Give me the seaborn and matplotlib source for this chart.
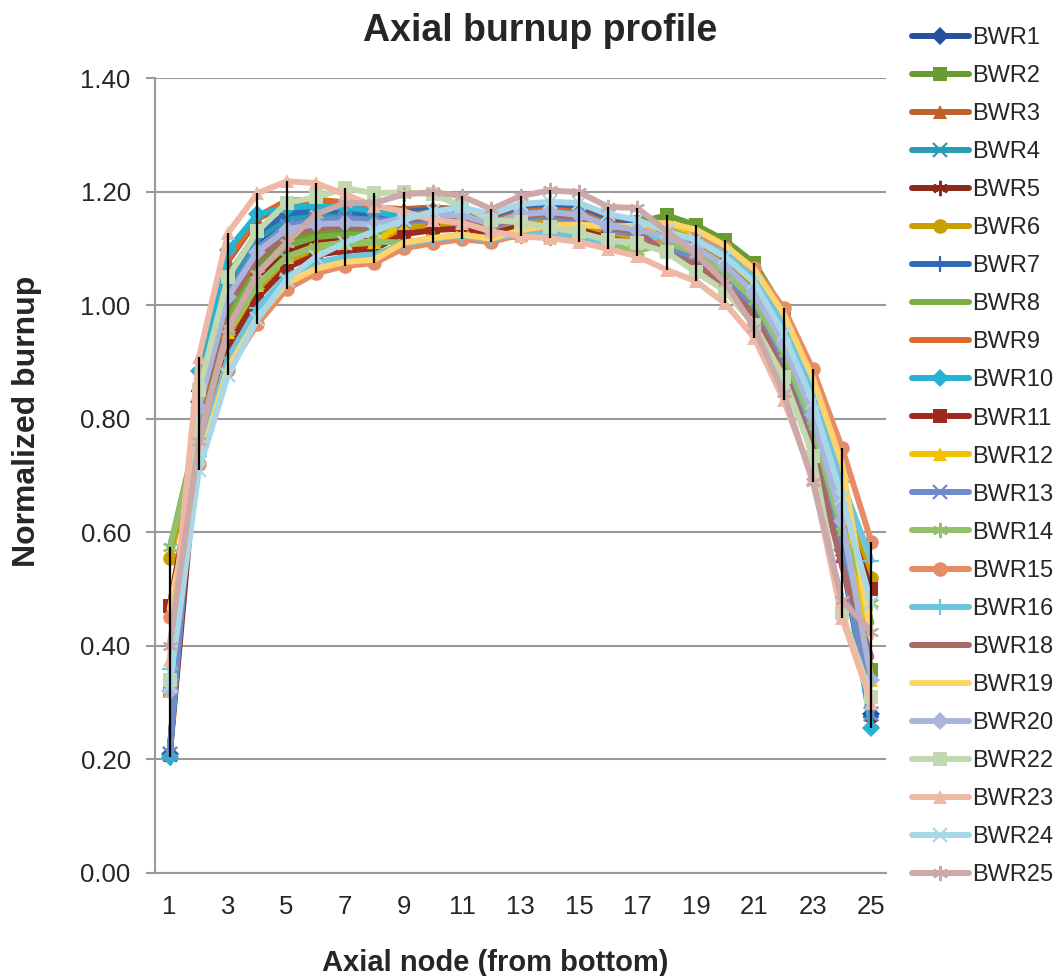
import numpy as np
import pandas as pd
import matplotlib
matplotlib.use("Agg")
import matplotlib.pyplot as plt
import seaborn as sns

nodes = list(range(1, 26))
series_names = ["BWR1", "BWR2", "BWR3", "BWR4", "BWR5", "BWR6", "BWR7", "BWR8",
                "BWR9", "BWR10", "BWR11", "BWR12", "BWR13", "BWR14", "BWR15",
                "BWR16", "BWR18", "BWR19", "BWR20", "BWR22", "BWR23", "BWR24", "BWR25"]

BWR1 = [0.21, .829, 1.027, 1.105, 1.142, 1.151, 1.151, 1.148, 1.159, 1.163, 1.162, 1.146, 1.164, 1.168, 1.164, 1.143, 1.137, 1.105, 1.087, 1.053, 1.001, .907, .778, .584, .28]
BWR2 = [0.32, .799, .990, 1.071, 1.114, 1.128, 1.131, 1.129, 1.140, 1.145, 1.146, 1.134, 1.149, 1.152, 1.146, 1.136, 1.146, 1.158, 1.141, 1.114, 1.074, .990, .827, .599, .357]
BWR3 = [0.21, .868, 1.077, 1.151, 1.180, 1.183, 1.179, 1.172, 1.169, 1.172, 1.169, 1.152, 1.171, 1.177, 1.173, 1.151, 1.146, 1.115, 1.096, 1.064, 1.015, .924, .797, .613, .265]
BWR4 = [0.21, .839, 1.040, 1.117, 1.152, 1.159, 1.158, 1.154, 1.150, 1.154, 1.154, 1.140, 1.157, 1.160, 1.155, 1.136, 1.129, 1.110, 1.092, 1.059, 1.008, .916, .788, .599, .28]
BWR5 = [0.205, .779, .965, 1.048, 1.095, 1.112, 1.117, 1.117, 1.130, 1.136, 1.139, 1.128, 1.142, 1.143, 1.137, 1.121, 1.112, 1.096, 1.077, 1.042, .988, .891, .758, .554, .265]
BWR6 = [0.555, .760, .940, 1.025, 1.076, 1.096, 1.103, 1.105, 1.135, 1.141, 1.143, 1.131, 1.146, 1.147, 1.142, 1.125, 1.116, 1.129, 1.111, 1.081, 1.034, .949, .827, .658, .52]
BWR7 = [0.21, .849, 1.052, 1.128, 1.161, 1.167, 1.165, 1.160, 1.164, 1.168, 1.165, 1.149, 1.167, 1.173, 1.168, 1.147, 1.141, 1.110, 1.092, 1.058, 1.008, .915, .787, .598, .275]
BWR8 = [0.57, .789, .977, 1.059, 1.104, 1.120, 1.124, 1.123, 1.145, 1.150, 1.150, 1.137, 1.153, 1.156, 1.151, 1.132, 1.124, 1.134, 1.116, 1.086, 1.041, .957, .837, .673, .44]
BWR9 = [0.21, .872, 1.082, 1.156, 1.184, 1.186, 1.181, 1.175, 1.159, 1.163, 1.162, 1.146, 1.164, 1.168, 1.164, 1.143, 1.137, 1.120, 1.101, 1.070, 1.021, .932, .807, .628, .30]
BWR10 = [0.205, .884, 1.097, 1.160, 1.171, 1.175, 1.172, 1.166, 1.154, 1.159, 1.158, 1.143, 1.160, 1.164, 1.159, 1.140, 1.133, 1.100, 1.082, 1.047, .995, .899, .768, .569, .255]
BWR11 = [0.47, .750, .927, 1.013, 1.066, 1.088, 1.096, 1.099, 1.125, 1.132, 1.135, 1.126, 1.139, 1.139, 1.133, 1.118, 1.107, 1.120, 1.101, 1.070, 1.021, .932, .807, .640, .50]
BWR12 = [0.32, .769, .952, 1.036, 1.085, 1.104, 1.110, 1.111, 1.145, 1.150, 1.150, 1.137, 1.153, 1.156, 1.151, 1.132, 1.124, 1.144, 1.126, 1.097, 1.054, .973, .857, .703, .34]
BWR13 = [0.21, .825, 1.020, 1.100, 1.140, 1.150, 1.152, 1.150, 1.146, 1.150, 1.150, 1.137, 1.153, 1.156, 1.150, 1.132, 1.124, 1.100, 1.082, 1.047, .995, .899, .768, .560, .28]
BWR14 = [0.574, .770, .955, 1.035, 1.085, 1.103, 1.110, 1.112, 1.110, 1.118, 1.124, 1.117, 1.121, 1.119, 1.118, 1.106, 1.095, 1.110, 1.092, 1.058, 1.008, .916, .788, .600, .475]
BWR15 = [0.45, .720, .885, .967, 1.028, 1.056, 1.069, 1.074, 1.100, 1.109, 1.116, 1.111, 1.125, 1.128, 1.125, 1.115, 1.110, 1.120, 1.120, 1.100, 1.065, .995, .887, .748, .583]
BWR16 = [0.36, .734, .907, .995, 1.051, 1.075, 1.085, 1.089, 1.108, 1.116, 1.122, 1.116, 1.127, 1.125, 1.118, 1.110, 1.112, 1.125, 1.115, 1.090, 1.048, .965, .847, .688, .55]
BWR18 = [0.33, .809, 1.002, 1.082, 1.123, 1.136, 1.138, 1.136, 1.150, 1.154, 1.154, 1.140, 1.157, 1.160, 1.155, 1.136, 1.129, 1.091, 1.072, 1.036, .982, .883, .748, .539, .38]
BWR19 = [0.465, .720, .890, .978, 1.038, 1.064, 1.076, 1.080, 1.110, 1.118, 1.124, 1.117, 1.132, 1.140, 1.142, 1.138, 1.140, 1.145, 1.133, 1.105, 1.063, .985, .871, .720, .415]
BWR20 = [0.32, .819, 1.015, 1.094, 1.133, 1.143, 1.144, 1.142, 1.154, 1.159, 1.158, 1.143, 1.160, 1.164, 1.159, 1.140, 1.133, 1.120, 1.101, 1.070, 1.021, .932, .807, .620, .34]
BWR22 = [0.34, .850, 1.050, 1.130, 1.180, 1.190, 1.206, 1.197, 1.199, 1.195, 1.175, 1.150, 1.146, 1.137, 1.128, 1.114, 1.109, 1.093, 1.058, 1.025, .965, .873, .735, .457, .31]
BWR23 = [0.375, .908, 1.127, 1.197, 1.218, 1.215, 1.195, 1.175, 1.165, 1.150, 1.145, 1.130, 1.121, 1.118, 1.111, 1.099, 1.086, 1.062, 1.042, 1.003, .942, .833, .695, .449, .30]
BWR24 = [0.33, .710, .877, .975, 1.045, 1.085, 1.110, 1.130, 1.150, 1.165, 1.172, 1.160, 1.178, 1.182, 1.180, 1.160, 1.150, 1.130, 1.115, 1.085, 1.040, .950, .830, .660, .475]
BWR25 = [0.40, .760, .960, 1.055, 1.110, 1.160, 1.180, 1.180, 1.195, 1.199, 1.192, 1.169, 1.192, 1.202, 1.199, 1.173, 1.171, 1.130, 1.090, 1.040, .960, .845, .688, .480, .425]

values = [BWR1, BWR2, BWR3, BWR4, BWR5, BWR6, BWR7, BWR8, BWR9, BWR10, BWR11, BWR12,
          BWR13, BWR14, BWR15, BWR16, BWR18, BWR19, BWR20, BWR22, BWR23, BWR24, BWR25]

colors = ["#264F9C", "#6A9C32", "#C0612B", "#2A9BB4", "#8B2A1C", "#C9A000", "#2E69B8",
          "#7AAE3E", "#D86B2A", "#25B3D2", "#9E2A1E", "#F2C200", "#6E8CCB", "#93C06A",
          "#E68C66", "#6CC5DE", "#AA6864", "#FDD36A", "#A9B5DA", "#C2D9B0", "#EEB8A4",
          "#A8D8E8", "#CCA8A8"]
AST = (6, 2, 0)
markers = ["D", "s", "^", "x", AST, "o", "+", None, None, "D", "s", "^", "x", AST,
           "o", "+", None, None, "D", "s", "^", "x", AST]

df = pd.DataFrame({"node": np.tile(nodes, len(series_names)),
                   "burnup": np.concatenate(values),
                   "series": np.repeat(series_names, len(nodes))})

sns.set_style("white")
plt.rcParams["font.family"] = ["Liberation Sans", "DejaVu Sans"]

fig = plt.figure(figsize=(10.58, 9.76), dpi=100)
ax = fig.add_axes([155 / 1058, 1 - 873 / 976, 731 / 1058, 795 / 976])

for name, col, mk in zip(series_names, colors, markers):
    sub = df[df["series"] == name]
    unfilled = mk in ("x", "+", AST)
    ms = {"D": 9, "s": 9.5, "^": 10, "o": 10.5, "x": 9.5, "+": 11}.get(mk, 11) if mk is not None else 0
    sns.lineplot(data=sub, x="node", y="burnup", color=col, marker=mk, lw=4.3,
                 markersize=ms, markeredgecolor=col,
                 markeredgewidth=1.6 if unfilled else 0.0,
                 solid_capstyle="round", solid_joinstyle="round",
                 label=name, ax=ax, legend=False)

# min-max range bars at every node
piv = df.pivot(index="node", columns="series", values="burnup")
ax.vlines(piv.index, piv.min(axis=1), piv.max(axis=1), color="black", lw=1.6, zorder=10)

ax.set_xlim(0.5, 25.5)
ax.set_ylim(0, 1.4)
ax.set_xticks(nodes[::2])
ax.set_xticklabels([str(n) for n in nodes[::2]])
ax.set_yticks(np.arange(0, 1.41, 0.2))
ax.set_yticklabels([f"{v:.2f}" for v in np.arange(0, 1.41, 0.2)])
ax.grid(axis="y", color="#9A9A9A", lw=1.5)
ax.set_axisbelow(True)
for s in ["top", "right"]:
    ax.spines[s].set_visible(False)
for s in ["left", "bottom"]:
    ax.spines[s].set_color("#9A9A9A")
    ax.spines[s].set_linewidth(1.5)
ax.tick_params(axis="x", length=0, pad=16, labelsize=18.5)
ax.tick_params(axis="y", length=6.5, width=1.5, color="#9A9A9A", pad=11, labelsize=18.5, left=True)

ax.set_xlabel("Axial node (from bottom)", fontsize=21, fontweight="bold")
ax.set_ylabel("Normalized burnup", fontsize=23, fontweight="bold")
ax.xaxis.label.set_va("center")
ax.yaxis.label.set_va("center")
ax.xaxis.set_label_coords((495 - 155) / 731, (873 - 963) / 795)
ax.yaxis.set_label_coords((27 - 155) / 731, (873 - 421) / 795)

fig.text(540 / 1058, 1 - 31 / 976, "Axial burnup profile", fontsize=27,
         fontweight="bold", ha="center", va="center")

handles, labels = ax.get_legend_handles_labels()
fig.legend(handles, labels, loc="upper left", bbox_to_anchor=(912 / 1058, 1 - 27 / 976),
           frameon=False, fontsize=17, handlelength=2.4, handletextpad=0.15,
           labelspacing=0.68, borderpad=0, borderaxespad=0, numpoints=1)

fig.savefig("out.png", dpi=100)
